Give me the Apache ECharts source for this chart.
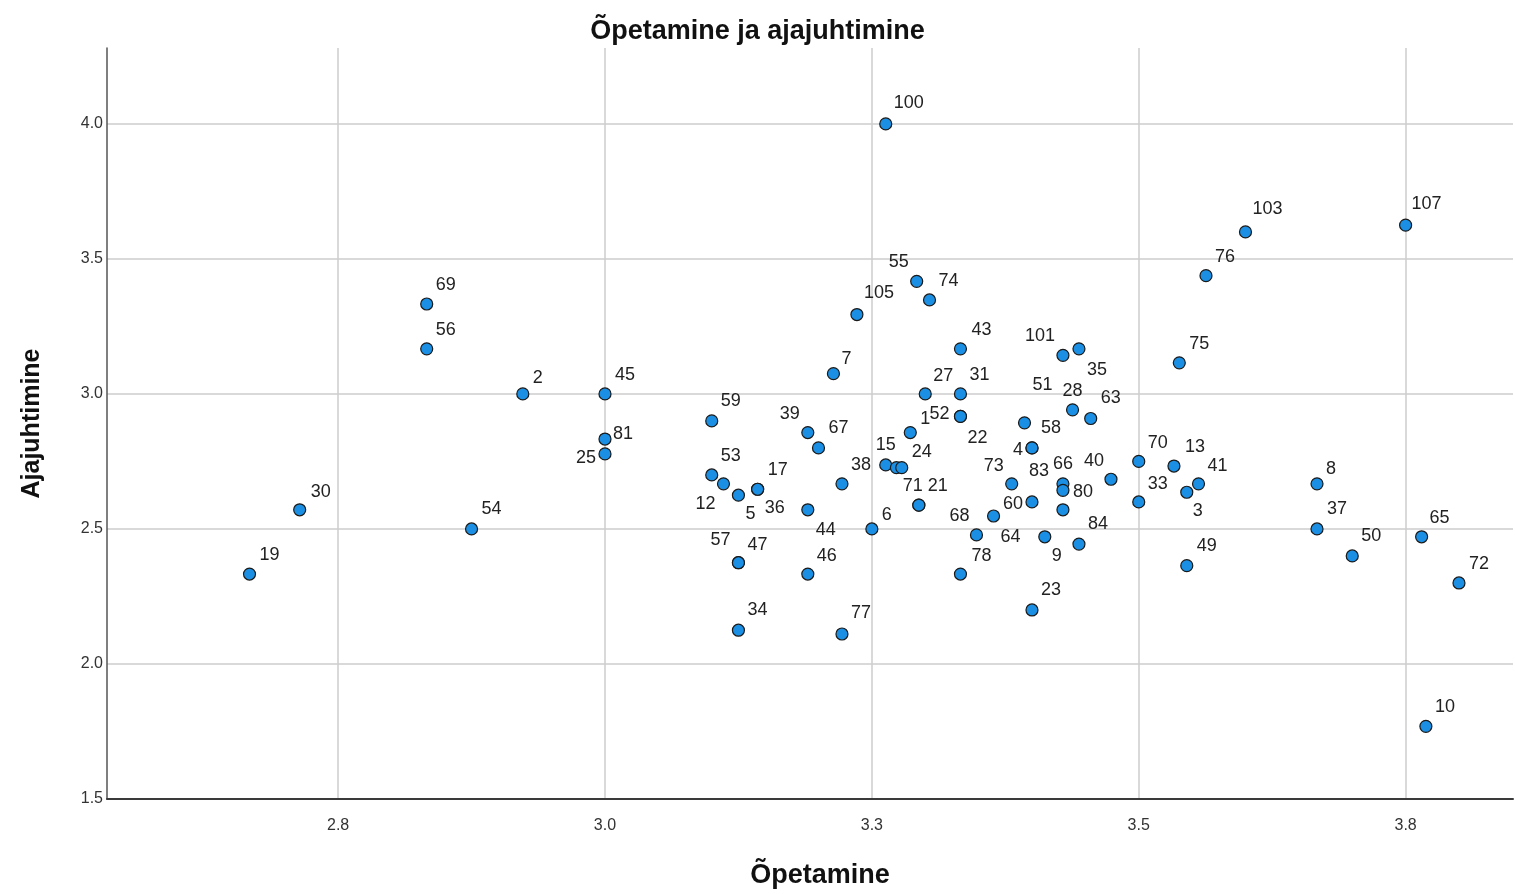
<!DOCTYPE html>
<html>
<head>
<meta charset="utf-8">
<script src="https://cdn.jsdelivr.net/npm/echarts@6/dist/echarts.min.js"></script>
<style>
html,body{margin:0;padding:0;background:#fff;}
#chart{width:1515px;height:894px;}
</style>
</head>
<body>
<div id="chart"></div>
<script>
// ---- data ----
const chartTitle = 'Õpetamine ja ajajuhtimine';
const xName = 'Õpetamine';
const yName = 'Ajajuhtimine';
const xTicks = [2.75, 3.0, 3.25, 3.5, 3.75];
const yTicks = [1.5, 2.0, 2.5, 3.0, 3.5, 4.0];

const ids = ['19','30','69','56','54','2','45','81','25','59','53','12','5','17','36','57','47','34',
  '39','67','44','46','7','38','77','105','6','100','15','','24','1','55','71','21','27','74',
  '43','31','52','22','78','68','64','73','51','58','4','60','23','9','101','66','83','80','28',
  '35','84','63','40','70','33','13','75','3','49','41','76','103','8','37','50','107','65','10','72'];
const opetamine = [2.667,2.714,2.833,2.833,2.875,2.923,3.000,3.000,3.000,3.100,3.100,3.111,3.125,3.143,3.143,3.125,3.125,3.125,
  3.190,3.200,3.190,3.190,3.214,3.222,3.222,3.236,3.250,3.263,3.263,3.273,3.278,3.286,3.292,3.294,3.294,3.300,3.304,
  3.333,3.333,3.333,3.333,3.333,3.348,3.364,3.381,3.393,3.400,3.400,3.400,3.400,3.412,3.429,3.429,3.429,3.429,3.438,
  3.444,3.444,3.455,3.474,3.500,3.500,3.533,3.538,3.545,3.545,3.556,3.563,3.600,3.667,3.667,3.700,3.750,3.765,3.769,3.800];
const ajajuhtimine = [2.333,2.571,3.333,3.167,2.500,3.000,3.000,2.833,2.778,2.900,2.700,2.667,2.625,2.647,2.647,2.375,2.375,2.125,
  2.857,2.800,2.571,2.333,3.075,2.667,2.111,3.294,2.500,4.000,2.737,2.727,2.727,2.857,3.417,2.588,2.588,3.000,3.348,
  3.167,3.000,2.917,2.917,2.333,2.478,2.548,2.667,2.893,2.800,2.800,2.600,2.200,2.471,3.143,2.667,2.643,2.571,2.941,
  3.167,2.444,2.909,2.684,2.750,2.600,2.733,3.115,2.636,2.364,2.667,3.438,3.600,2.667,2.500,2.400,3.625,2.471,1.769,2.300];

// ---- label placement (style only, offsets in px from the marker) ----
const labelOffsets = {
  '19':[20,-19],'30':[21,-18],'69':[19,-19],'56':[19,-19],'54':[20,-20],'2':[15,-16],'45':[20,-19],'81':[18,-5],'25':[-19,4],
  '59':[19,-20],'53':[19,-19],'12':[-18,20],'5':[12,19],'17':[20,-19],'36':[17,19],'57':[-18,-23],'47':[19,-18],'34':[19,-20],
  '39':[-18,-19],'67':[20,-20],'44':[18,20],'46':[19,-18],'7':[13,-15],'38':[19,-19],'77':[19,-21],'105':[22,-22],'6':[15,-14],
  '100':[23,-21],'15':[0,-20],'24':[20,-16],'1':[15,-14],'55':[-18,-19],'71':[-6,-19],'21':[19,-19],'27':[18,-18],'74':[19,-19],
  '43':[21,-19],'31':[19,-19],'52':[-21,-2],'22':[17,22],'78':[21,-18],'68':[-17,-19],'64':[17,21],'73':[-18,-18],'51':[18,-38],
  '58':[19,-20],'4':[-14,2],'60':[-19,2],'23':[19,-20],'9':[12,19],'101':[-23,-19],'66':[0,-20],'83':[-24,-19],'80':[20,-18],
  '28':[0,-19],'35':[18,21],'84':[19,-20],'63':[20,-20],'40':[-17,-18],'70':[19,-18],'33':[19,-18],'13':[21,-19],'75':[20,-19],
  '3':[11,19],'49':[20,-20],'41':[19,-18],'76':[19,-19],'103':[22,-23],'8':[14,-15],'37':[20,-20],'50':[19,-20],'107':[21,-21],
  '65':[18,-19],'10':[19,-19],'72':[20,-19]
};

const FONT = '"Liberation Sans", Arial, sans-serif';

const points = ids.map((id, i) => ({
  name: id,
  value: [opetamine[i], ajajuhtimine[i]],
  label: { offset: labelOffsets[id] || [0, 0] }
}));

const chart = echarts.init(document.getElementById('chart'), null, { renderer: 'canvas' });
chart.setOption({
  backgroundColor: '#ffffff',
  animation: false,
  title: {
    text: chartTitle,
    left: 'center',
    top: 13,
    textStyle: { fontFamily: FONT, fontSize: 27, fontWeight: 'bold', color: '#111' }
  },
  grid: { left: 107, right: 2, top: 48, bottom: 92, containLabel: false },
  xAxis: {
    type: 'value',
    min: 2.5335,
    max: 3.8506,
    name: xName,
    nameLocation: 'middle',
    nameGap: 63,
    nameTextStyle: { fontFamily: FONT, fontSize: 27, fontWeight: 'bold', color: '#111', padding: [0, 0, 0, 20] },
    axisLine: { show: true, lineStyle: { color: '#3a3a3a', width: 2 } },
    axisTick: { show: false, customValues: xTicks },
    axisLabel: {
      customValues: xTicks,
      formatter: v => Number(v).toFixed(1),
      fontFamily: FONT, fontSize: 16, color: '#333', margin: 19
    },
    splitLine: { show: true, lineStyle: { color: '#cccccc', width: 1.5 } }
  },
  yAxis: {
    type: 'value',
    min: 1.5,
    max: 4.281,
    name: yName,
    nameLocation: 'middle',
    nameGap: 62,
    nameRotate: 90,
    nameTextStyle: { fontFamily: FONT, fontSize: 25, fontWeight: 'bold', color: '#111', padding: [0, 0, 0, 0] },
    axisLine: { show: true, lineStyle: { color: '#555', width: 1.5 } },
    axisTick: { show: false, customValues: yTicks },
    axisLabel: {
      customValues: yTicks,
      formatter: v => Number(v).toFixed(1),
      fontFamily: FONT, fontSize: 16, color: '#333', margin: 4
    },
    splitLine: { show: true, lineStyle: { color: '#cccccc', width: 1.5 } }
  },
  series: [{
    type: 'scatter',
    data: points,
    symbol: 'circle',
    symbolSize: 12,
    itemStyle: { color: '#1a8fe3', borderColor: '#1a1a1a', borderWidth: 1.2, opacity: 1 },
    label: {
      show: true,
      position: 'inside',
      formatter: '{b}',
      align: 'center',
      verticalAlign: 'middle',
      fontFamily: FONT,
      fontSize: 18,
      color: '#222'
    },
    emphasis: { disabled: true }
  }]
});
</script>
</body>
</html>
